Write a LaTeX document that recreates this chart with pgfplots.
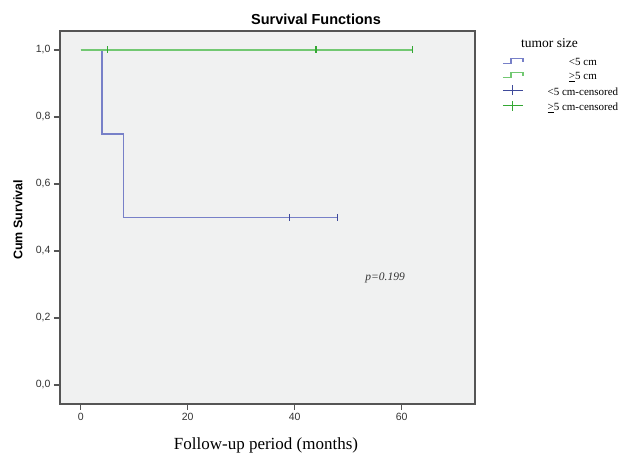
\documentclass[border=0pt]{standalone}
\usepackage{pgfplots}
\pgfplotsset{compat=1.18}
\usepackage{fontspec}
\setmainfont{Liberation Serif}
\setsansfont{Liberation Sans}
\definecolor{kmblue}{HTML}{7780C8}
\definecolor{kmgreen}{HTML}{72C872}
\definecolor{cblue}{HTML}{3F4A9A}
\definecolor{cgreen}{HTML}{34A834}
\definecolor{plotbg}{HTML}{F0F1F1}
\definecolor{frame}{HTML}{555555}
\begin{document}
\begin{tikzpicture}[x=1pt,y=1pt]
\useasboundingbox (0,0) rectangle (625,455);
\begin{axis}[
  at={(60pt,51pt)}, anchor=south west,
  scale only axis, width=415pt, height=373pt,
  xmin=-3.87, xmax=73.7, ymin=-0.0567, ymax=1.0567,
  axis background/.style={fill=plotbg},
  axis line style={frame, line width=1.2pt},
  xtick={0,20,40,60}, ytick={0,0.2,0.4,0.6,0.8,1.0},
  xtick pos=left, ytick pos=left,
  xtick align=outside, ytick align=outside, major tick length=6pt,
  major tick style={frame, line width=1.5pt},
  ticklabel style={font=\sffamily\fontsize{10.5}{12}\selectfont, text=black!80},
  /pgf/number format/assume math mode=true,
  yticklabel style={/pgf/number format/.cd, fixed, fixed zerofill, precision=1, use comma},
  legend style={at={(1.065,0.933)}, anchor=north west, draw=none, fill=none,
    font=\fontsize{11}{12}\selectfont, inner sep=0pt, row sep=1.5pt,
    /tikz/every odd column/.append style={column sep=22pt}},
  legend cell align=center,
  clip=false,
]
\addplot[kmblue, line width=1.9pt, sharp plot, line join=miter, legend image code/.code={
   \draw[kmblue, line width=1.4pt] (0pt,-1pt) -- (8pt,-1pt) -- (8pt,4pt) -- (20pt,4pt) -- (20pt,1pt);}]
  coordinates {(0,1) (4,1) (4,0.75) (8,0.75) (8,0.5) (48,0.5)};
\addlegendentry{<5 cm}
\addplot[kmgreen, line width=1.8pt, sharp plot, legend image code/.code={
   \draw[kmgreen, line width=1.4pt] (0pt,-1pt) -- (8pt,-1pt) -- (8pt,4pt) -- (20pt,4pt) -- (20pt,1pt);}]
  coordinates {(0,1) (62,1)};
\addlegendentry{\underline{>}5 cm}
\addplot[cblue, only marks, mark=|, mark size=3.5pt, mark options={line width=1.6pt}, legend image code/.code={
   \draw[cblue, line width=1pt] (0pt,2pt) -- (20pt,2pt); \draw[cblue, line width=1pt] (10pt,-3pt) -- (10pt,7pt);}]
  coordinates {(39,0.5) (48,0.5)};
\addlegendentry{<5 cm-censored}
\addplot[cgreen, only marks, mark=|, mark size=3.5pt, mark options={line width=1.6pt}, legend image code/.code={
   \draw[cgreen, line width=1pt] (0pt,2pt) -- (20pt,2pt); \draw[cgreen, line width=1pt] (10pt,-3pt) -- (10pt,7pt);}]
  coordinates {(5,1) (44,1) (62,1)};
\addlegendentry{\underline{>}5 cm-censored}
\node[font=\fontsize{11.5}{13}\selectfont\itshape, text=black!80] at (axis cs:56.9,0.32) {p=0.199};
\end{axis}
\node[font=\sffamily\bfseries\fontsize{14.5}{16}\selectfont] at (316,436) {Survival Functions};
\node[font=\sffamily\bfseries\fontsize{12.5}{14}\selectfont, rotate=90] at (18,235) {Cum Survival};
\node[font=\fontsize{17}{19}\selectfont] at (266,10) {Follow-up period (months)};
\node[font=\fontsize{13.5}{15}\selectfont] at (549.5,412) {tumor size};
\end{tikzpicture}
\end{document}
